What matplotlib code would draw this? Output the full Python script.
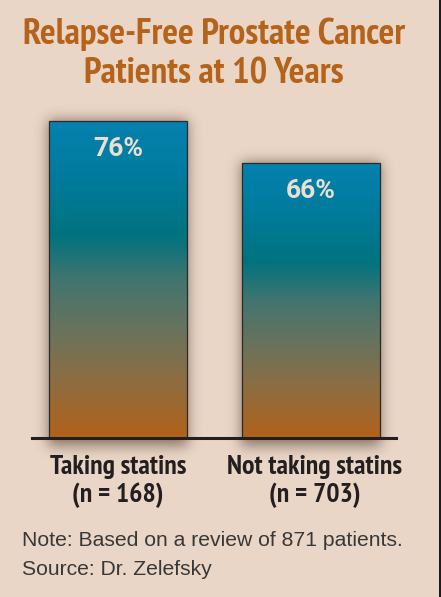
import numpy as np
import matplotlib
matplotlib.use("Agg")
import matplotlib.pyplot as plt
from matplotlib.patches import Rectangle
from matplotlib.colors import LinearSegmentedColormap, to_rgb
from matplotlib import font_manager as fm
from matplotlib.transforms import blended_transform_factory

# ---- data ----
title_lines = ["Relapse-Free Prostate Cancer", "Patients at 10 Years"]
category_names = ["Taking statins", "Not taking statins"]
category_counts = ["(n = 168)", "(n = 703)"]
values = [76, 66]
value_labels = ["76%", "66%"]
notes = ["Note: Based on a review of 871 patients.", "Source: Dr. Zelefsky"]

W, H, DPI = 441, 597, 100
BG = "#EAD6C6"
TITLE_C = "#B5631B"
DARK = "#231F20"

def pick_font(keys, bold=True):
    cands = []
    for f in fm.fontManager.ttflist:
        s = (f.name + " " + f.fname).lower()
        for rank, k in enumerate(keys):
            if k in s:
                w = f.weight if isinstance(f.weight, int) else (700 if "bold" in str(f.weight) else 400)
                fl = f.fname.lower()
                if "italic" in f.style or "oblique" in f.style or "italic" in fl or "oblique" in fl:
                    break
                score = abs(w - (700 if bold else 400))
                cands.append((rank, score, f.fname))
                break
    if cands:
        cands.sort()
        return fm.FontProperties(fname=cands[0][2])
    return None

cond_bold = pick_font(["narrow", "condensed"], bold=True)
if cond_bold is None:
    cond_bold = fm.FontProperties(family="DejaVu Sans", weight="bold", stretch="condensed")
note_font = fm.FontProperties(family="Liberation Sans")
pct_font = fm.FontProperties(family="Roboto", weight="bold")

fig = plt.figure(figsize=(W / DPI, H / DPI), dpi=DPI, facecolor=BG)

def fx(px):
    return px / W

def fy(py):
    return 1 - py / H

# background layer for the soft shadow
bg_ax = fig.add_axes([0, 0, 1, 1], zorder=0)
bg_ax.set_axis_off()

# axes placed so that baseline = y 438px, bars centred at 118 / 310.5 px
ax_left, ax_right, ax_bottom, ax_top = 32, 396, 438, 21
ax = fig.add_axes([fx(ax_left), fy(ax_bottom), fx(ax_right - ax_left), (ax_bottom - ax_top) / H], zorder=1)
ax.set_facecolor("none")
for s in ax.spines.values():
    s.set_visible(False)
ax.set_xticks([])
ax.set_yticks([])

x = np.arange(len(values))
bw = 0.717
xlim = (-0.447, 1.444)
ylim = (0, 100)

stops = [(0.0, "#0581AF"), (0.16, "#017C9F"), (0.36, "#00737F"),
         (0.5, "#41756F"), (0.66, "#69735D"), (0.8, "#896E45"),
         (1.0, "#B2621A")]
cmap = LinearSegmentedColormap.from_list("bar_grad", stops)
grad = np.linspace(0, 1, 256).reshape(-1, 1)

renderer = fig.canvas.get_renderer()

def fit(t, target):
    for _ in range(3):
        bb = t.get_window_extent(renderer)
        t.set_fontsize(t.get_fontsize() * target / bb.width)

pct_texts = []
for i, v in enumerate(values):
    x0 = x[i] - bw / 2
    rect = Rectangle((x0, 0), bw, v, facecolor="none", edgecolor="#2B2B2B", lw=0.9, zorder=4)
    ax.add_patch(rect)
    im = ax.imshow(grad, cmap=cmap, aspect="auto", extent=(x0, x0 + bw, 0, v),
                   origin="upper", zorder=3, interpolation="bilinear")
    im.set_clip_path(rect)
    pct_texts.append(ax.annotate(value_labels[i], (x[i], v), xytext=(0, -28),
                                 textcoords="offset pixels", ha="center", va="center",
                                 color="#EBDFD2", fontproperties=pct_font,
                                 fontsize=17, zorder=5))

ax.set_xlim(*xlim)
ax.set_ylim(*ylim)
ax.axhline(0, color=DARK, lw=2.2, zorder=6, clip_on=False)

fit(pct_texts[0], 50)
for t in pct_texts[1:]:
    t.set_fontsize(pct_texts[0].get_fontsize())

# soft blurred shadow computed from the bars' display positions
mask = np.zeros((H, W))
for i, v in enumerate(values):
    x0 = x[i] - bw / 2
    (px0, py0), (px1, py1) = ax.transData.transform([(x0, 0), (x0 + bw, v)])
    r0, r1 = int(round(H - py1)) - 1, int(round(H - py0)) + 8
    c0, c1 = int(round(px0)) - 1, int(round(px1)) + 1
    mask[max(r0, 0):r1, max(c0, 0):c1] = 1.0

def blur1d(a, sigma, axis):
    rad = int(3 * sigma)
    k = np.exp(-0.5 * (np.arange(-rad, rad + 1) / sigma) ** 2)
    k /= k.sum()
    return np.apply_along_axis(lambda m: np.convolve(m, k, mode="same"), axis, a)

soft = blur1d(blur1d(mask, 6.5, 0), 6.5, 1)
rgba = np.zeros((H, W, 4))
rgba[..., :3] = to_rgb("#3E2619")
rgba[..., 3] = 0.55 * soft
bg_ax.imshow(rgba, extent=(0, W, 0, H), origin="upper", aspect="auto", interpolation="bilinear")
bg_ax.set_xlim(0, W)
bg_ax.set_ylim(0, H)

# title
t1 = fig.text(fx(214), fy(44), title_lines[0], ha="center", va="baseline",
              color=TITLE_C, fontproperties=cond_bold, fontsize=20)
fit(t1, 381)
t2 = fig.text(fx(214), fy(84), title_lines[1], ha="center", va="baseline",
              color=TITLE_C, fontproperties=cond_bold, fontsize=t1.get_fontsize())

# category labels
tr = blended_transform_factory(ax.transData, fig.transFigure)
l0 = ax.text(x[0], fy(474), category_names[0], transform=tr, ha="center", va="baseline",
             color=DARK, fontproperties=cond_bold, fontsize=14)
fit(l0, 136)
lfs = l0.get_fontsize()
for i in range(len(values)):
    if i > 0:
        ax.text(x[i] + 0.02, fy(474), category_names[i], transform=tr, ha="center", va="baseline",
                color=DARK, fontproperties=cond_bold, fontsize=lfs)
    ax.text(x[i] + (0.02 if i > 0 else 0), fy(502), category_counts[i], transform=tr,
            ha="center", va="baseline", color=DARK, fontproperties=cond_bold, fontsize=lfs)

# notes
n1 = fig.text(fx(22), fy(546), notes[0], ha="left", va="baseline", color="#383838",
              fontproperties=note_font, fontsize=12)
fit(n1, 381)
fig.text(fx(22), fy(575), notes[1], ha="left", va="baseline", color="#383838",
         fontproperties=note_font, fontsize=n1.get_fontsize())

# right dark edge
fig.add_artist(Rectangle((fx(439), 0), fx(2), 1, transform=fig.transFigure,
                         facecolor="#1C1C1C", edgecolor="none", zorder=5))

fig.savefig("out.png", dpi=DPI, facecolor=BG)
